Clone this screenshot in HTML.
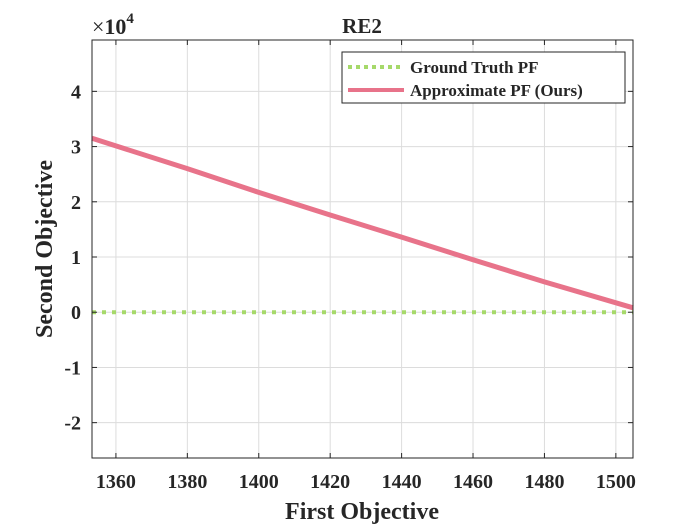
<!DOCTYPE html>
<html><head><meta charset="utf-8"><style>
body{margin:0;background:#fff;}
svg text{font-family:"Liberation Serif",serif;font-weight:bold;fill:#262626;}
</style></head><body>
<svg width="700" height="525" xmlns="http://www.w3.org/2000/svg">
<g id="grid"></g>
<g id="series"></g>
<rect x="92" y="40" width="541" height="418" fill="none" stroke="#262626" stroke-width="1"/>
<g id="ticks"></g>
<text x="362" y="33" font-size="21" text-anchor="middle">RE2</text>
<text x="92" y="34" font-size="22" style="font-weight:normal">×<tspan style="font-weight:bold">10</tspan><tspan font-size="15" dy="-11" style="font-weight:bold">4</tspan></text>
<text x="362" y="519" font-size="24" text-anchor="middle">First Objective</text>
<text transform="translate(52,249) rotate(-90)" font-size="24" text-anchor="middle">Second Objective</text>
<g>
<rect x="342" y="52" width="283" height="51" fill="#fff" stroke="#262626" stroke-width="1"/>
<line x1="348" y1="67" x2="404" y2="67" stroke="#a6d96a" stroke-width="4" stroke-dasharray="4,4"/>
<text x="410" y="73" font-size="17">Ground Truth PF</text>
<line x1="348" y1="90" x2="404" y2="90" stroke="#e8738a" stroke-width="4"/>
<text x="410" y="96" font-size="17">Approximate PF (Ours)</text>
</g>
</svg>
<script>
const xTicks=[1360,1380,1400,1420,1440,1460,1480,1500];
const yTicks=[-2,-1,0,1,2,3,4];
const gtX=[1353.3,1504.8];
const gtY=[0,0];
const apX=[1353.3,1380,1400,1420,1440,1460,1480,1504.8];
const apY=[3.15,2.6,2.17,1.76,1.36,0.95,0.55,0.08];
const X0=1353.3,X1=1504.8,Y0=-2.64,Y1=4.93,L=92,R=633,T=40,B=458;
const sx=v=>L+(v-X0)/(X1-X0)*(R-L);
const sy=v=>B-(v-Y0)/(Y1-Y0)*(B-T);
const NS="http://www.w3.org/2000/svg";
const grid=document.getElementById('grid'),ticks=document.getElementById('ticks'),ser=document.getElementById('series');
function mk(tag,attrs,parent){const e=document.createElementNS(NS,tag);for(const k in attrs)e.setAttribute(k,attrs[k]);parent.appendChild(e);return e;}
xTicks.forEach(v=>{const x=sx(v);
const g=mk('line',{x1:x,y1:T,x2:x,y2:B,stroke:'#dcdcdc','stroke-width':1},grid);


const t1=mk('line',{x1:x,y1:B,x2:x,y2:B-5,stroke:'#262626'},ticks);


const t2=mk('line',{x1:x,y1:T,x2:x,y2:T+5,stroke:'#262626'},ticks);


const tx=mk('text',{x:x,y:B+30,'font-size':20,'text-anchor':'middle'},ticks);tx.textContent=v;


});
yTicks.forEach(v=>{const y=sy(v);
const g=mk('line',{x1:L,y1:y,x2:R,y2:y,stroke:'#dcdcdc','stroke-width':1},grid);


const t1=mk('line',{x1:L,y1:y,x2:L+5,y2:y,stroke:'#262626'},ticks);


const t2=mk('line',{x1:R,y1:y,x2:R-5,y2:y,stroke:'#262626'},ticks);


const tx=mk('text',{x:L-11,y:y+7,'font-size':20,'text-anchor':'end'},ticks);tx.textContent=v;


});
const pts=(xs,ys)=>xs.map((v,i)=>sx(v)+','+sy(ys[i])).join(' ');
const gt=mk('polyline',{points:pts(gtX,gtY),fill:'none',stroke:'#a6d96a','stroke-width':4,'stroke-dasharray':'4,6'},ser);


const ap=mk('polyline',{points:pts(apX,apY),fill:'none',stroke:'#e8738a','stroke-width':5,'stroke-linejoin':'round'},ser);


</script>
</body></html>
